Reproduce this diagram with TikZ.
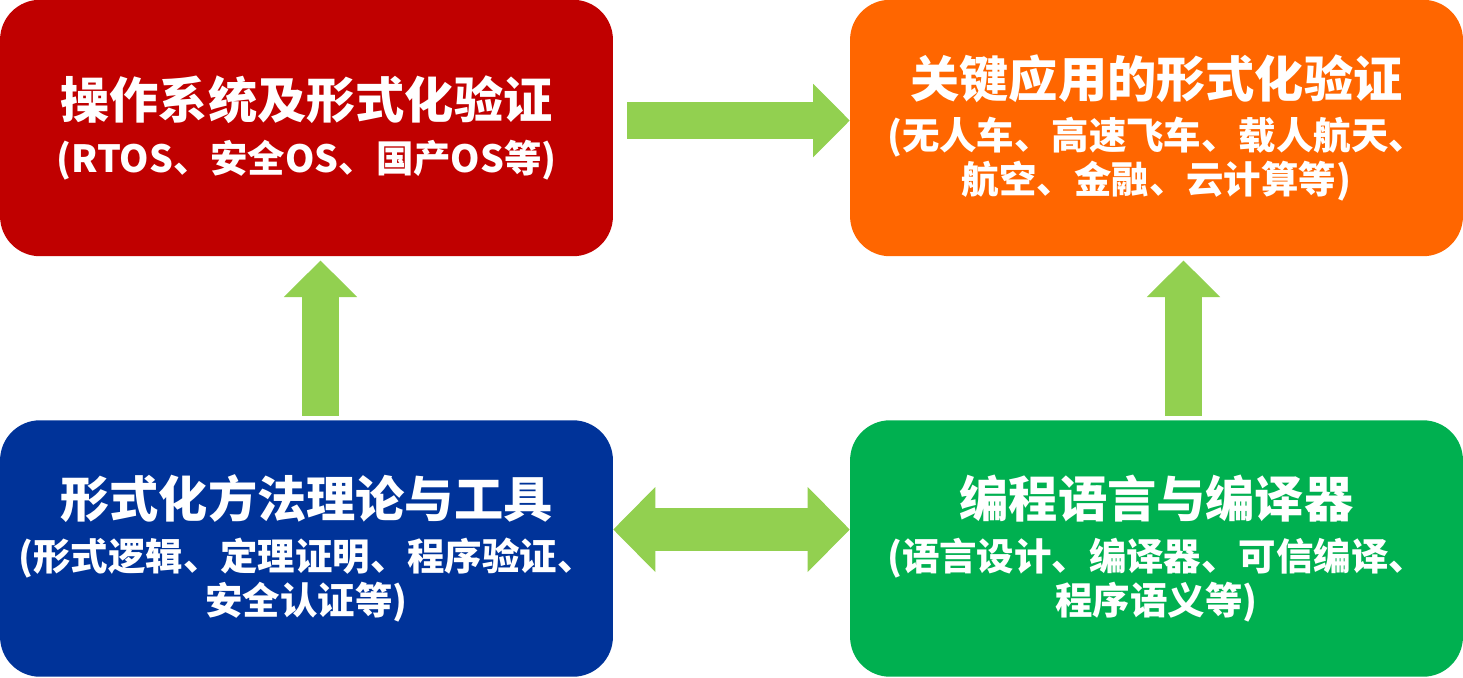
\documentclass[tikz,border=0pt]{standalone}
\usepackage{fontspec}
\newfontfamily\cjk{Noto Sans CJK SC}
\usepackage{tikz}
\usetikzlibrary{arrows.meta, positioning}

\definecolor{osred}{RGB}{192,0,0}
\definecolor{apporange}{RGB}{255,102,0}
\definecolor{fmblue}{RGB}{0,51,153}
\definecolor{plgreen}{RGB}{0,176,80}
\definecolor{arrowgreen}{RGB}{146,208,80}

\newcommand{\hdsize}{\fontsize{28}{25}\selectfont}
\newcommand{\ntsize}{\fontsize{21.3}{25}\selectfont}

\begin{document}
\begin{tikzpicture}[x=0.02cm, y=-0.02cm]
   % Styles
   \tikzset{
    box/.style={rounded corners=0.8cm, minimum width=12.26cm, minimum height=5.13cm,
      inner sep=0pt, align=center, text=white, font=\cjk\bfseries\ntsize},
    flow/.style={line width=0.74cm, arrowgreen,
      -{Triangle[length=0.73cm, width=1.47cm, line width=0pt]}},
    both/.style={line width=0.86cm, arrowgreen,
      {Triangle[length=0.84cm, width=1.7cm, line width=0pt]}-{Triangle[length=0.84cm, width=1.7cm, line width=0pt]}}
   }
  \useasboundingbox (0,0) rectangle (1463,677);
  % Nodes
  \node[box, fill=osred] (osbox) at (306.5,128)
    {\hdsize 操作系统及形式化验证\\[0.2cm]\ntsize (RTOS、安全OS、国产OS等)};
  \node[box, fill=apporange] (appbox) at (1156.5,128)
    {\hdsize 关键应用的形式化验证\\[0.17cm]\ntsize (无人车、高速飞车、载人航天、\\航空、金融、云计算等)};
  \node[box, fill=fmblue] (fmbox) at (306.5,548.5)
    {\hdsize 形式化方法理论与工具\\[0.17cm]\ntsize (形式逻辑、定理证明、程序验证、\\安全认证等)};
  \node[box, fill=plgreen] (plbox) at (1156.5,548.5)
    {\hdsize 编程语言与编译器\\[0.17cm]\ntsize (语言设计、编译器、可信编译、\\程序语义等)};
  % Arrows
  \draw[flow] ([xshift=0.28cm, yshift=0.15cm]osbox.east) -- ([yshift=0.15cm]appbox.west);
  \draw[flow] ([xshift=0.28cm, yshift=0.08cm]fmbox.north) -- ([xshift=0.28cm, yshift=-0.08cm]osbox.south);
  \draw[flow] ([xshift=0.54cm, yshift=0.08cm]plbox.north) -- ([xshift=0.54cm, yshift=-0.08cm]appbox.south);
  \draw[both] ([yshift=0.38cm]fmbox.east) -- ([yshift=0.38cm]plbox.west);
\end{tikzpicture}
\end{document}
